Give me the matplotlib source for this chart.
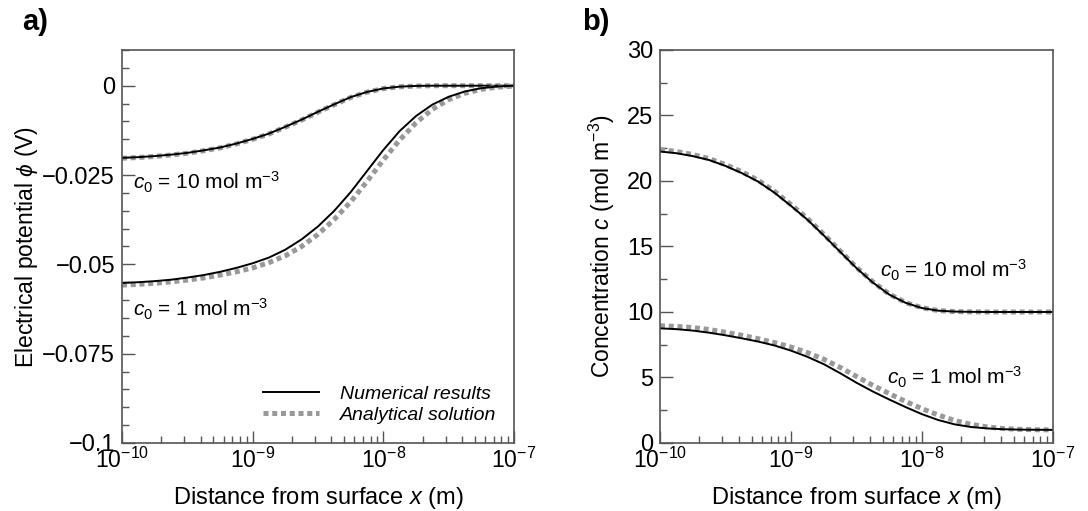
import numpy as np
import matplotlib
matplotlib.use("Agg")
import matplotlib.pyplot as plt
from matplotlib.ticker import MultipleLocator, LogLocator, NullFormatter, FixedLocator

plt.rcParams['font.family'] = ['Liberation Sans', 'DejaVu Sans']
plt.rcParams['mathtext.fontset'] = 'custom'
plt.rcParams['mathtext.rm'] = 'Liberation Sans'
plt.rcParams['mathtext.it'] = 'Liberation Sans:italic'
plt.rcParams['mathtext.bf'] = 'Liberation Sans:bold'

# distance from surface, log10 steps of 1/8 decade
log_x = [-10.0, -9.875, -9.75, -9.625, -9.5, -9.375, -9.25, -9.125,
         -9.0, -8.875, -8.75, -8.625, -8.5, -8.375, -8.25, -8.125,
         -8.0, -7.875, -7.75, -7.625, -7.5, -7.375, -7.25, -7.125, -7.0]

# a) electrical potential (V)
phi10_num = [-0.0202, -0.0200, -0.0197, -0.0193, -0.0188, -0.0181, -0.0173, -0.0162,
             -0.0149, -0.0134, -0.0115, -0.0095, -0.0073, -0.0052, -0.0032, -0.00175,
             -0.00077, -0.00026, -0.00006, 0.0, 0.0, 0.0, 0.0, 0.0, 0.0]
phi10_ana = [-0.0203, -0.0201, -0.0198, -0.0194, -0.0189, -0.0182, -0.0174, -0.0163,
             -0.0150, -0.0135, -0.0116, -0.0096, -0.0074, -0.0053, -0.0033, -0.0018,
             -0.0008, -0.0003, -0.0001, 0.0, 0.0, 0.0, 0.0, 0.0, 0.0]
phi1_num = [-0.0552, -0.0550, -0.0547, -0.0543, -0.0537, -0.0530, -0.0521, -0.0510,
            -0.0497, -0.0481, -0.0459, -0.0430, -0.0394, -0.0350, -0.0298, -0.0239,
            -0.0180, -0.0127, -0.0085, -0.0053, -0.0031, -0.0016, -0.0007, -0.0002, 0.0]
phi1_ana = [-0.0558, -0.0556, -0.0553, -0.0549, -0.0544, -0.0538, -0.0530, -0.0521,
            -0.0510, -0.0495, -0.0476, -0.0450, -0.0416, -0.0374, -0.0325, -0.0268,
            -0.0208, -0.0152, -0.0104, -0.0066, -0.0039, -0.0021, -0.0010, -0.0004, -0.0001]

# b) concentration (mol m-3)
c10_num = [22.25, 22.12, 21.9, 21.6, 21.15, 20.6, 19.95, 19.1,
           18.1, 17.05, 15.85, 14.6, 13.35, 12.25, 11.33, 10.7,
           10.3, 10.1, 10.03, 10.01, 10.0, 10.0, 10.0, 10.0, 10.0]
c10_ana = [22.4, 22.25, 22.02, 21.7, 21.25, 20.7, 20.05, 19.2,
           18.2, 17.14, 15.93, 14.67, 13.4, 12.3, 11.37, 10.72,
           10.32, 10.11, 10.03, 10.01, 10.0, 10.0, 10.0, 10.0, 10.0]
c1_num = [8.75, 8.69, 8.58, 8.42, 8.22, 7.99, 7.74, 7.44,
          7.05, 6.58, 6.02, 5.33, 4.6, 3.93, 3.32, 2.74,
          2.2, 1.75, 1.42, 1.22, 1.11, 1.05, 1.02, 1.01, 1.0]
c1_ana = [8.95, 8.9, 8.81, 8.66, 8.45, 8.22, 7.96, 7.66,
          7.32, 6.9, 6.4, 5.77, 5.08, 4.4, 3.77, 3.17,
          2.62, 2.13, 1.72, 1.42, 1.22, 1.1, 1.04, 1.01, 1.0]

x = 10.0 ** np.array(log_x)

ana_style = dict(color='#999999', lw=3.6, ls=(0, (1.0, 0.75)), dash_capstyle='butt')
num_style = dict(color='black', lw=1.4)
spine_col = '#555555'


def style_axes(ax):
    ax.set_xscale('log')
    ax.set_xlim(1e-10, 1e-7)
    ax.xaxis.set_major_locator(FixedLocator([1e-10, 1e-9, 1e-8, 1e-7]))
    ax.xaxis.set_minor_locator(LogLocator(base=10, subs=np.arange(2, 10)))
    ax.xaxis.set_minor_formatter(NullFormatter())
    ax.tick_params(which='both', direction='in', top=False, right=False,
                   colors=spine_col, labelcolor='black', width=1)
    ax.tick_params(which='major', length=9)
    ax.tick_params(which='minor', length=5)
    ax.tick_params(axis='x', pad=3.5, labelsize=16.5)
    ax.tick_params(axis='y', pad=5, labelsize=17)
    for s in ax.spines.values():
        s.set_color(spine_col)
        s.set_linewidth(1.2)
    ax.set_xlabel('Distance from surface $\\mathit{x}$ (m)', fontsize=17)
    ax.xaxis.set_label_coords(0.5, -0.107)


fig = plt.figure(figsize=(10.88, 5.11), dpi=100)
ax1 = fig.add_axes([0.1121, 0.1331, 0.3603, 0.7691])
ax2 = fig.add_axes([0.6066, 0.1331, 0.3612, 0.7691])

# panel a
ax1.plot(x, phi10_ana, **ana_style)
ax1.plot(x, phi10_num, **num_style)
l_ana, = ax1.plot(x, phi1_ana, **ana_style)
l_num, = ax1.plot(x, phi1_num, **num_style)
style_axes(ax1)
ax1.set_ylim(-0.1, 0.01)
ax1.yaxis.set_major_locator(FixedLocator([-0.1, -0.075, -0.05, -0.025, 0]))
ax1.set_yticklabels(['\u22120.1', '\u22120.075', '\u22120.05', '\u22120.025', '0'])
ax1.yaxis.set_minor_locator(MultipleLocator(0.005))
ax1.set_ylabel('Electrical potential $\\mathit{\\phi}$ (V)', fontsize=16.5)
ax1.yaxis.set_label_coords(-0.209, 0.5)
ax1.text(1.21e-10, -0.0272, '$\\mathit{c}_0$ = 10 mol m$^{-3}$', fontsize=15,
         va='center', ha='left')
ax1.text(1.21e-10, -0.0627, '$\\mathit{c}_0$ = 1 mol m$^{-3}$', fontsize=15,
         va='center', ha='left')
leg = ax1.legend([l_num, l_ana], ['Numerical results', 'Analytical solution'],
                 loc='lower right', bbox_to_anchor=(1.0, 0.005), frameon=False,
                 prop={'style': 'italic', 'size': 14}, handlelength=2.85,
                 handletextpad=1.1, labelspacing=0.15)

# panel b
ax2.plot(x, c10_ana, **ana_style)
ax2.plot(x, c10_num, **num_style)
ax2.plot(x, c1_ana, **ana_style)
ax2.plot(x, c1_num, **num_style)
style_axes(ax2)
ax2.set_ylim(0, 30)
ax2.yaxis.set_major_locator(MultipleLocator(5))
ax2.yaxis.set_minor_locator(MultipleLocator(2.5))
ax2.set_ylabel('Concentration $\\mathit{c}$ (mol m$^{-3}$)', fontsize=16.5)
ax2.yaxis.set_label_coords(-0.109, 0.5)
ax2.text(4.8e-9, 13.2, '$\\mathit{c}_0$ = 10 mol m$^{-3}$', fontsize=15,
         va='center', ha='left')
ax2.text(5.45e-9, 5.0, '$\\mathit{c}_0$ = 1 mol m$^{-3}$', fontsize=15,
         va='center', ha='left')

fig.text(22 / 1088, 1 - 22 / 511, 'a)', fontsize=21, fontweight='bold', va='center')
fig.text(582 / 1088, 1 - 22 / 511, 'b)', fontsize=21, fontweight='bold', va='center')

fig.savefig('out.png', dpi=100)
